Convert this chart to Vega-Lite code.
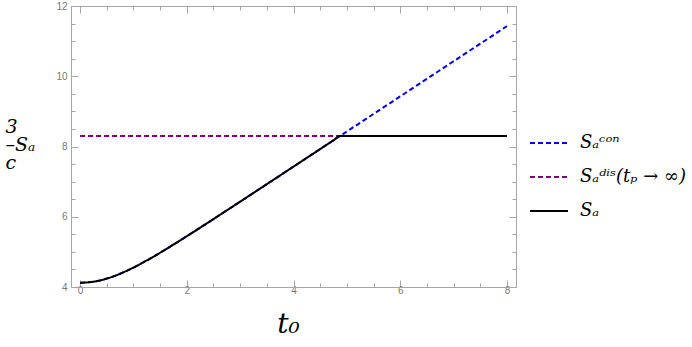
{
  "$schema": "https://vega.github.io/schema/vega-lite/v6.json",
  "width": 445,
  "height": 281,
  "autosize": "none",
  "padding": {"left": 71, "top": 6, "right": 176, "bottom": 60},
  "background": "white",
  "config": {
    "view": {"stroke": null},
    "axis": {
      "grid": false,
      "domainColor": "#a6a6a6",
      "tickColor": "#a6a6a6",
      "labelFont": "Liberation Sans",
      "labelFontSize": 10,
      "labelColor": "#777777",
      "labelOverlap": false
    }
  },
  "datasets": {
    "curves": [
      {"t": 0, "S": 4.12, "series": "con"},
      {"t": 0.25, "S": 4.151, "series": "con"},
      {"t": 0.5, "S": 4.24, "series": "con"},
      {"t": 0.75, "S": 4.378, "series": "con"},
      {"t": 1, "S": 4.554, "series": "con"},
      {"t": 1.25, "S": 4.756, "series": "con"},
      {"t": 1.5, "S": 4.975, "series": "con"},
      {"t": 1.75, "S": 5.207, "series": "con"},
      {"t": 2, "S": 5.445, "series": "con"},
      {"t": 2.25, "S": 5.688, "series": "con"},
      {"t": 2.5, "S": 5.934, "series": "con"},
      {"t": 2.75, "S": 6.181, "series": "con"},
      {"t": 3, "S": 6.429, "series": "con"},
      {"t": 3.25, "S": 6.678, "series": "con"},
      {"t": 3.5, "S": 6.928, "series": "con"},
      {"t": 3.75, "S": 7.177, "series": "con"},
      {"t": 4, "S": 7.427, "series": "con"},
      {"t": 4.25, "S": 7.677, "series": "con"},
      {"t": 4.5, "S": 7.927, "series": "con"},
      {"t": 4.75, "S": 8.177, "series": "con"},
      {"t": 5, "S": 8.427, "series": "con"},
      {"t": 6, "S": 9.427, "series": "con"},
      {"t": 7, "S": 10.427, "series": "con"},
      {"t": 8, "S": 11.427, "series": "con"},
      {"t": 0, "S": 8.3, "series": "dis"},
      {"t": 8, "S": 8.3, "series": "dis"},
      {"t": 0, "S": 4.12, "series": "SA"},
      {"t": 0.25, "S": 4.151, "series": "SA"},
      {"t": 0.5, "S": 4.24, "series": "SA"},
      {"t": 0.75, "S": 4.378, "series": "SA"},
      {"t": 1, "S": 4.554, "series": "SA"},
      {"t": 1.25, "S": 4.756, "series": "SA"},
      {"t": 1.5, "S": 4.975, "series": "SA"},
      {"t": 1.75, "S": 5.207, "series": "SA"},
      {"t": 2, "S": 5.445, "series": "SA"},
      {"t": 2.25, "S": 5.688, "series": "SA"},
      {"t": 2.5, "S": 5.934, "series": "SA"},
      {"t": 2.75, "S": 6.181, "series": "SA"},
      {"t": 3, "S": 6.429, "series": "SA"},
      {"t": 3.25, "S": 6.678, "series": "SA"},
      {"t": 3.5, "S": 6.928, "series": "SA"},
      {"t": 3.75, "S": 7.177, "series": "SA"},
      {"t": 4, "S": 7.427, "series": "SA"},
      {"t": 4.25, "S": 7.677, "series": "SA"},
      {"t": 4.5, "S": 7.927, "series": "SA"},
      {"t": 4.75, "S": 8.177, "series": "SA"},
      {"t": 4.873, "S": 8.3, "series": "SA"},
      {"t": 8, "S": 8.3, "series": "SA"}
    ]
  },
  "data": {"name": "curves"},
  "layer": [
    {
      "transform": [{"filter": "datum.series === 'con'"}],
      "mark": {"type": "line", "strokeWidth": 2, "interpolate": "monotone"},
      "encoding": {
        "x": {
          "field": "t", "type": "quantitative",
          "scale": {"domain": [-0.17, 8.17], "nice": false, "zero": false},
          "axis": {
            "orient": "bottom",
            "values": [0,0.5,1,1.5,2,2.5,3,3.5,4,4.5,5,5.5,6,6.5,7,7.5,8],
            "labelExpr": "datum.value % 2 === 0 ? format(datum.value, 'd') : ''",
            "tickSize": {"condition": {"test": "datum.value % 2 === 0", "value": -7}, "value": -4},
            "labelPadding": 5,
            "title": "t₀",
            "titleFont": "DejaVu Serif",
            "titleFontStyle": "italic",
            "titleFontWeight": "normal",
            "titleFontSize": 28,
            "titleColor": "black",
            "titleBaseline": "alphabetic",
            "titleAlign": "center",
            "titleX": 217,
            "titleY": 45
          }
        },
        "y": {
          "field": "S", "type": "quantitative",
          "scale": {"domain": [4, 12], "nice": false, "zero": false},
          "axis": {
            "orient": "left",
            "values": [4,4.5,5,5.5,6,6.5,7,7.5,8,8.5,9,9.5,10,10.5,11,11.5,12],
            "labelExpr": "datum.value % 2 === 0 ? format(datum.value, 'd') : ''",
            "tickSize": {"condition": {"test": "datum.value % 2 === 0", "value": -7}, "value": -4},
            "labelPadding": 11,
            "title": ["3", "–Sₐ", "c"],
            "titleFont": "DejaVu Serif",
            "titleFontStyle": "italic",
            "titleFontWeight": "normal",
            "titleFontSize": 19,
            "titleLineHeight": 18,
            "titleColor": "black",
            "titleAngle": 0,
            "titleAlign": "left",
            "titleBaseline": "middle",
            "titleX": -66,
            "titleY": 120
          }
        },
        "color": {
          "field": "series", "type": "nominal",
          "scale": {"domain": ["con", "dis", "SA"], "range": ["#0000ff", "#800080", "#000000"]},
          "legend": {
            "orient": "none",
            "legendX": 458,
            "legendY": 117,
            "title": null,
            "symbolType": "stroke",
            "symbolSize": 1444,
            "symbolStrokeWidth": 2,
            "labelFont": "DejaVu Serif",
            "labelFontStyle": "italic",
            "labelFontSize": 18,
            "labelColor": "black",
            "labelOffset": 11,
            "rowPadding": 5,
            "labelExpr": "datum.value === 'con' ? 'Sₐᶜᵒⁿ' : datum.value === 'dis' ? 'Sₐᵈⁱˢ(tₚ → ∞)' : 'Sₐ'"
          }
        },
        "strokeDash": {
          "field": "series", "type": "nominal",
          "scale": {"domain": ["con", "dis", "SA"], "range": [[5, 3], [5, 3], [1, 0]]},
          "legend": null
        }
      }
    },
    {
      "transform": [{"filter": "datum.series === 'dis'"}],
      "mark": {"type": "line", "strokeWidth": 2},
      "encoding": {
        "x": {
          "field": "t", "type": "quantitative",
          "axis": {
            "orient": "top",
            "values": [0,0.5,1,1.5,2,2.5,3,3.5,4,4.5,5,5.5,6,6.5,7,7.5,8],
            "labels": false,
            "tickSize": {"condition": {"test": "datum.value % 2 === 0", "value": -7}, "value": -4},
            "title": null
          }
        },
        "y": {
          "field": "S", "type": "quantitative",
          "axis": {
            "orient": "right",
            "values": [4,4.5,5,5.5,6,6.5,7,7.5,8,8.5,9,9.5,10,10.5,11,11.5,12],
            "labels": false,
            "tickSize": {"condition": {"test": "datum.value % 2 === 0", "value": -7}, "value": -4},
            "title": null
          }
        },
        "color": {"field": "series", "type": "nominal"},
        "strokeDash": {"field": "series", "type": "nominal"}
      }
    },
    {
      "transform": [{"filter": "datum.series === 'SA'"}],
      "mark": {"type": "line", "strokeWidth": 2, "interpolate": "monotone"},
      "encoding": {
        "x": {"field": "t", "type": "quantitative", "axis": null},
        "y": {"field": "S", "type": "quantitative", "axis": null},
        "color": {"field": "series", "type": "nominal"},
        "strokeDash": {"field": "series", "type": "nominal"}
      }
    }
  ],
  "resolve": {"axis": {"x": "independent", "y": "independent"}}
}
